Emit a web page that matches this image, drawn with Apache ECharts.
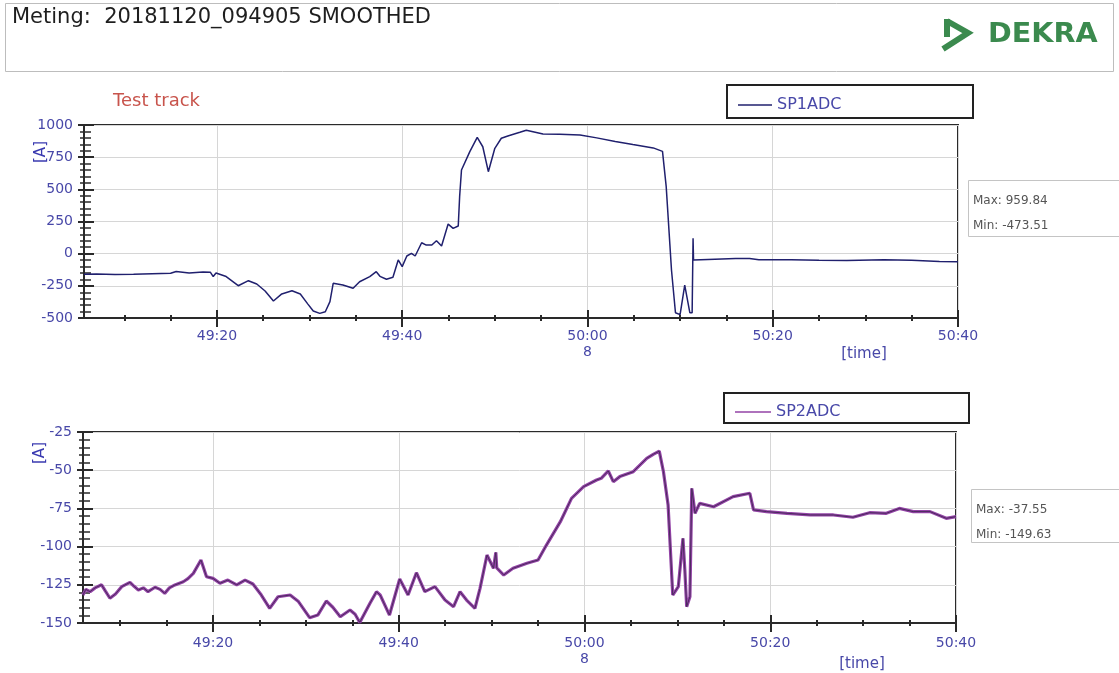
<!DOCTYPE html>
<html>
<head>
<meta charset="utf-8">
<script src="https://cdn.jsdelivr.net/npm/echarts@6/dist/echarts.min.js"></script>
<style>html,body{margin:0;padding:0;background:#fff;}#c{width:1119px;height:673px;}</style>
</head>
<body>
<div id="c"></div>
<script>
// ---- data (time = seconds after 49:00) ----
const sp1Time = [5.65,7,9,11,13,15,15.6,15.8,17,18.5,19.3,19.6,19.9,21.0,22.3,23.4,24.3,25.2,26.1,27.0,28.1,29.0,29.8,30.4,31.1,31.7,32.2,32.55,32.7,33.6,34.7,35.4,36.5,37.2,37.6,38.3,39.0,39.57,40.0,40.5,41.0,41.4,42.1,42.6,43.2,43.7,44.25,44.96,45.5,46.05,46.2,46.4,47.3,48.1,48.7,49.3,50.0,50.7,51.4,52.7,53.4,55.2,57.0,59.2,61.0,63.0,64.9,67.1,68.1,68.5,69.07,69.5,70.0,70.5,71.05,71.3,71.4,71.45,73,76,77.5,78.5,82,85,88,92,95,98,100];
const sp1Value = [-160,-158,-162,-160,-156,-152,-138,-152,-150,-142,-145,-178,-150,-178,-249,-210,-236,-290,-368,-313,-288,-313,-390,-446,-464,-451,-373,-230,-225,-243,-269,-218,-179,-140,-176,-199,-184,-49,-101,-18,3,-18,85,67,67,101,60,230,197,215,443,650,793,904,831,637,819,897,915,943,959.84,930,928,922,900,872,848,822,795,521,-127,-459,-473.51,-244,-459,-459,119,-49,-45,-38,-37,-48,-47,-52,-53,-48,-52,-60,-62];

const sp2Time = [6.0,6.3,6.76,7.3,8.0,8.4,8.9,9.5,10.17,11.06,11.5,11.96,12.5,13.0,13.76,14.3,14.8,15.3,15.9,16.8,17.3,17.88,18.7,19.3,20.0,20.75,21.6,22.55,23.45,24.3,25.2,26.1,27.0,28.3,29.2,30.4,31.3,32.2,32.9,33.7,34.75,35.3,35.8,36.9,37.6,38.0,39.0,40.1,41.0,41.9,42.8,43.9,44.98,45.9,46.6,47.3,48.2,48.75,49.5,50.2,50.45,50.55,51.3,52.3,53.8,55.0,55.9,57.4,58.6,59.9,61.3,61.8,62.56,63.1,63.8,65.25,66.7,67.4,68.05,68.5,69.0,69.5,70.1,70.6,70.8,71.0,71.35,71.55,71.9,72.4,73.9,76.0,77.8,78.2,79.6,81.8,84.3,86.8,88.9,90.7,92.5,93.9,95.4,97.2,98.95,100];
const sp2Value = [-131.7,-128,-129.5,-127,-125,-129,-133.8,-131,-126.2,-123.4,-126,-128.4,-127,-129.5,-126.6,-128,-130.6,-127,-125.1,-123,-121,-117.5,-108.8,-119.7,-120.8,-124,-121.9,-125,-121.9,-124.5,-131.7,-140.4,-132.8,-131.7,-136,-146.5,-144.7,-135.6,-139.7,-145.9,-141.5,-144.3,-149.63,-137.1,-129.5,-131.7,-144.8,-121.2,-131.7,-117.1,-129.5,-126.2,-135,-139.3,-129.5,-135,-140.4,-127.3,-105.5,-114.2,-103.8,-114,-118.6,-114.2,-110.9,-108.8,-99,-83.7,-68.4,-60.8,-56.4,-55.3,-50.5,-57.5,-54.2,-51,-42.2,-39.6,-37.55,-51,-72.8,-131.7,-126.2,-94.6,-115,-139.3,-132.8,-61.9,-78.2,-71.7,-73.9,-67.3,-65.1,-76,-77.1,-78.2,-79.3,-79.3,-80.8,-77.8,-78.2,-75,-77.1,-77.1,-81.5,-80.4];

const xMajorTicks = [20, 40, 60, 80, 100];
const xTickLabels = ['49:20', '49:40', '50:00\n8', '50:20', '50:40'];
const xMinorTicks = [10, 15, 25, 30, 35, 45, 50, 55, 65, 70, 75, 85, 90, 95];

const seriesNames = ['SP1ADC', 'SP2ADC'];
const statLines = [['Max: 959.84', 'Min: -473.51'], ['Max: -37.55', 'Min: -149.63']];
const titleText = 'Meting:  20181120_094905 SMOOTHED';
const subTitle = 'Test track';

// ---- chart ----
const FONT = 'DejaVu Sans';
const LBL = '#4848a8';
const AX = '#2a2a2a';
const chart = echarts.init(document.getElementById('c'), null, {renderer: 'canvas'});

const grids = [
  {left: 84, top: 125, width: 874, height: 193, xMin: 5.65, yMin: -500, yMax: 1000, yInt: 250},
  {left: 83, top: 432, width: 873, height: 191, xMin: 6.0, yMin: -150, yMax: -25, yInt: 25}
];

const xAxes = [], yAxes = [];
grids.forEach((g, gi) => {
  const base = {type: 'value', gridIndex: gi, min: g.xMin, max: 100, position: 'bottom',
    axisLine: {show: false, onZero: false}, axisLabel: {show: false}, splitLine: {show: false}};
  xAxes.push(Object.assign({}, base, {
    axisLine: {show: true, onZero: false, lineStyle: {color: AX, width: 2}},
    axisTick: {show: true, customValues: xMajorTicks, length: 9, lineStyle: {color: AX, width: 2}},
    axisLabel: {show: true, customValues: xMajorTicks, margin: gi === 0 ? 10 : 12, color: LBL,
      fontFamily: FONT, fontSize: 14, lineHeight: 16,
      formatter: v => { const i = xMajorTicks.indexOf(Math.round(v)); return i >= 0 ? xTickLabels[i] : ''; }},
    splitLine: {show: true, lineStyle: {color: '#d6d6d6', width: 1}}
  }));
  xAxes.push(Object.assign({}, base, {
    axisTick: {show: true, inside: true, customValues: xMajorTicks, length: 8, lineStyle: {color: AX, width: 2}}
  }));
  xAxes.push(Object.assign({}, base, {
    axisTick: {show: true, customValues: xMinorTicks, length: 3, lineStyle: {color: AX, width: 2}}
  }));
  xAxes.push(Object.assign({}, base, {
    axisTick: {show: true, inside: true, customValues: xMinorTicks, length: 3, lineStyle: {color: AX, width: 2}}
  }));
  yAxes.push({type: 'value', gridIndex: gi, min: g.yMin, max: g.yMax, interval: g.yInt, position: 'left',
    axisLine: {show: true, onZero: false, lineStyle: {color: AX, width: 2}},
    axisTick: {show: true, length: 6, lineStyle: {color: AX, width: 2}},
    minorTick: {show: true, splitNumber: 5, length: 4, lineStyle: {color: AX, width: 1.5}},
    axisLabel: {margin: 11, color: LBL, fontFamily: FONT, fontSize: 14, formatter: v => String(v)},
    splitLine: {show: true, lineStyle: {color: '#d6d6d6', width: 1}}
  });
  yAxes.push({type: 'value', gridIndex: gi, min: g.yMin, max: g.yMax, interval: g.yInt, position: 'left',
    axisLine: {show: false, onZero: false},
    axisTick: {show: true, inside: true, length: 10, lineStyle: {color: AX, width: 2}},
    minorTick: {show: true, splitNumber: 5, length: 7, lineStyle: {color: AX, width: 1.5}},
    axisLabel: {show: false}, splitLine: {show: false}
  });
});

const sp1Data = sp1Time.map((t, i) => [t, sp1Value[i]]);
const sp2Data = sp2Time.map((t, i) => [t, sp2Value[i]]);

const option = {
  animation: false,
  backgroundColor: '#ffffff',
  grid: grids.map(g => ({left: g.left, top: g.top, width: g.width, height: g.height,
    show: true, borderColor: AX, borderWidth: 2, backgroundColor: 'transparent'})),
  xAxis: xAxes,
  yAxis: yAxes,
  legend: [
    {data: [seriesNames[0]], left: 733, top: 92, icon: 'rect', itemWidth: 34, itemHeight: 1.5,
      textStyle: {color: LBL, fontFamily: FONT, fontSize: 16}},
    {data: [seriesNames[1]], left: 730, top: 399, icon: 'rect', itemWidth: 36, itemHeight: 1.5,
      textStyle: {color: LBL, fontFamily: FONT, fontSize: 16}}
  ],
  series: [
    {name: seriesNames[0], type: 'line', xAxisIndex: 0, yAxisIndex: 0, data: sp1Data,
      showSymbol: false, color: '#20206e', lineStyle: {color: '#20206e', width: 1.5}},
    {name: seriesNames[1], type: 'line', xAxisIndex: 4, yAxisIndex: 2, data: sp2Data,
      showSymbol: false, color: '#9343a6', lineStyle: {color: '#9343a6', width: 3.2}},
    {name: 'SP2core', type: 'line', xAxisIndex: 4, yAxisIndex: 2, data: sp2Data,
      showSymbol: false, color: '#4a2a5c', lineStyle: {color: '#4a2a5c', width: 1}}
  ],
  graphic: [
    {type: 'rect', shape: {x: 5.5, y: 3.5, width: 1108, height: 68}, style: {fill: 'none', stroke: '#bdbdbd', lineWidth: 1}},
    {type: 'text', x: 12, y: 18, style: {text: titleText, font: '21px "DejaVu Sans"', fill: '#1e1e1e', align: 'left', verticalAlign: 'middle'}},
    {type: 'polyline', shape: {points: [[947, 19], [947, 37]]}, style: {stroke: '#3b8a4e', lineWidth: 6, fill: 'none'}},
    {type: 'polyline', shape: {points: [[947, 21], [968, 33], [943, 49]]}, style: {stroke: '#3b8a4e', lineWidth: 6, fill: 'none', lineJoin: 'miter'}},
    {type: 'text', x: 988, y: 35, scaleX: 1.1, style: {text: 'DEKRA', font: 'bold 26px "DejaVu Sans"', fill: '#3b8a4e', align: 'left', verticalAlign: 'middle'}},
    {type: 'text', x: 113, y: 101, style: {text: subTitle, font: '18px "DejaVu Sans"', fill: '#c8544c', align: 'left', verticalAlign: 'middle'}},
    {type: 'rect', shape: {x: 727, y: 85, width: 246, height: 33}, style: {fill: 'none', stroke: '#222', lineWidth: 2}},
    {type: 'rect', shape: {x: 724, y: 393, width: 245, height: 30}, style: {fill: 'none', stroke: '#222', lineWidth: 2}},
    {type: 'rect', shape: {x: 968.5, y: 180.5, width: 170, height: 56}, style: {fill: '#fff', stroke: '#c4c4c4', lineWidth: 1}},
    {type: 'text', x: 973, y: 201, style: {text: statLines[0][0], font: '12px "DejaVu Sans"', fill: '#555', verticalAlign: 'middle'}},
    {type: 'text', x: 973, y: 226, style: {text: statLines[0][1], font: '12px "DejaVu Sans"', fill: '#555', verticalAlign: 'middle'}},
    {type: 'rect', shape: {x: 971.5, y: 489.5, width: 170, height: 53}, style: {fill: '#fff', stroke: '#c4c4c4', lineWidth: 1}},
    {type: 'text', x: 976, y: 510, style: {text: statLines[1][0], font: '12px "DejaVu Sans"', fill: '#555', verticalAlign: 'middle'}},
    {type: 'text', x: 976, y: 535, style: {text: statLines[1][1], font: '12px "DejaVu Sans"', fill: '#555', verticalAlign: 'middle'}},
    {type: 'text', x: 41, y: 152, rotation: Math.PI / 2, style: {text: '[A]', font: '15px "DejaVu Sans"', fill: '#3a3ab0', align: 'center', verticalAlign: 'middle'}},
    {type: 'text', x: 40, y: 453, rotation: Math.PI / 2, style: {text: '[A]', font: '15px "DejaVu Sans"', fill: '#3a3ab0', align: 'center', verticalAlign: 'middle'}},
    {type: 'text', x: 864, y: 354, style: {text: '[time]', font: '15px "DejaVu Sans"', fill: LBL, align: 'center', verticalAlign: 'middle'}},
    {type: 'text', x: 862, y: 664, style: {text: '[time]', font: '15px "DejaVu Sans"', fill: LBL, align: 'center', verticalAlign: 'middle'}}
  ]
};
chart.setOption(option);
</script>
</body>
</html>
